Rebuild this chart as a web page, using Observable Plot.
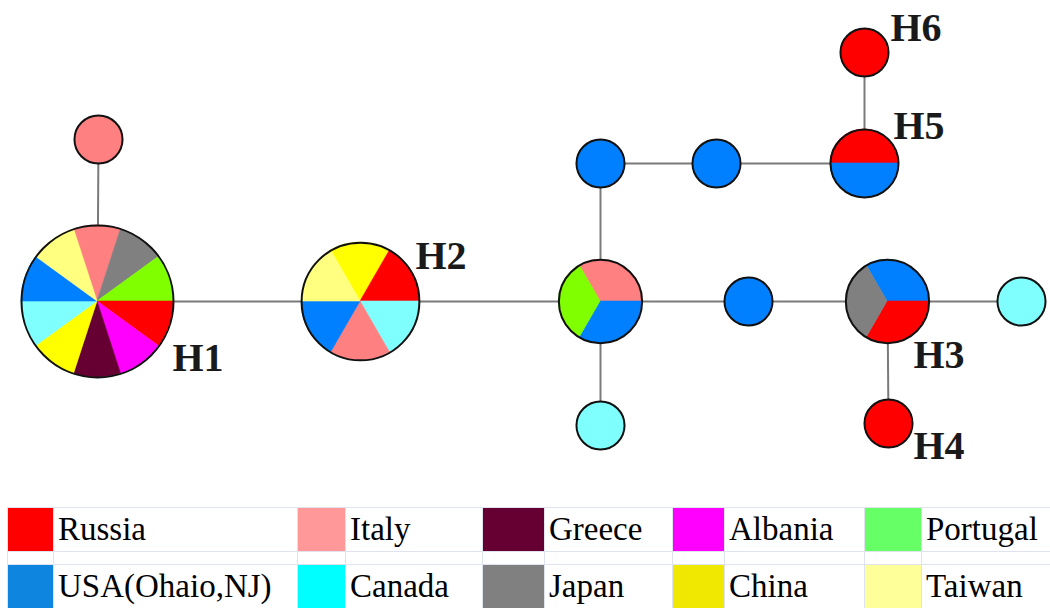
<!DOCTYPE html>
<html><head><meta charset="utf-8">
<script src="https://cdn.jsdelivr.net/npm/d3@7"></script>
<script src="https://cdn.jsdelivr.net/npm/@observablehq/plot@0.6"></script>
<style>
html,body{margin:0;padding:0;background:#fff;}
#chart{width:1050px;}
#chart svg{display:block;}
table.legend{border-collapse:collapse;table-layout:fixed;margin:2px 0 0 7px;width:1043px;font-family:"Liberation Serif","Times New Roman",serif;font-size:33px;color:#000;}
table.legend td{border:1px solid #dfe3ee;padding:0;line-height:1;}
table.legend td.t{padding-left:4px;white-space:nowrap;overflow:hidden;vertical-align:middle;}
table.legend tr.r{height:44px;}
table.legend tr.s{height:13px;}
</style></head>
<body><div id="chart"></div>
<script>
// ---- data ----
const countries = ["Russia","Italy","Greece","Albania","Portugal","USA(Ohaio,NJ)","Canada","Japan","China","Taiwan"];
const nodeIds = ["H1","It","H2","C","U1","U2","H5","H6","U3","H3","Ca1","H4","Ca2"];
const nodeX   = [97, 98, 360, 600, 600, 716, 864, 864, 748, 887, 1021, 888, 600];
const nodeY   = [301, 139, 301, 301, 163, 163, 163, 52, 301, 301, 301, 423, 425];
const nodeMembers = [
  ["Italy","Japan","Portugal","Russia","Albania","Greece","China","Canada","USA(Ohaio,NJ)","Taiwan"],
  ["Italy"],
  ["China","Russia","Canada","Italy","USA(Ohaio,NJ)","Taiwan"],
  ["Italy","USA(Ohaio,NJ)","Portugal"],
  ["USA(Ohaio,NJ)"],
  ["USA(Ohaio,NJ)"],
  ["Russia","USA(Ohaio,NJ)"],
  ["Russia"],
  ["USA(Ohaio,NJ)"],
  ["USA(Ohaio,NJ)","Russia","Japan"],
  ["Canada"],
  ["Russia"],
  ["Canada"]
];
const edges = [["It","H1"],["H1","H2"],["H2","C"],["C","U1"],["U1","U2"],["U2","H5"],["H5","H6"],["C","Ca2"],["C","U3"],["U3","H3"],["H3","Ca1"],["H3","H4"]];
const labeledNodes = ["H1","H2","H3","H4","H5","H6"];

// ---- styles ----
const pieColors    = ["#ff0000","#ff8080","#660033","#ff00ff","#80ff00","#0080ff","#80ffff","#808080","#ffff00","#ffff80"];
const legendColors = ["#ff0000","#ff9999","#660033","#ff00ff","#66ff66","#0e86e0","#00ffff","#808080","#f0e800","#ffff99"];
const startAngle = {H1:-18, H2:-30, C:-30, H3:-30, H5:-90};
const labelOffset = {H1:[75,69], H2:[55,-33], H3:[26,66], H4:[25,35], H5:[29,-25], H6:[26,-12]};

// ---- build ----
const nodes = nodeIds.map((id, i) => ({id, x: nodeX[i], y: nodeY[i], members: nodeMembers[i], count: nodeMembers[i].length}));
const byId = new Map(nodes.map(n => [n.id, n]));
const links = edges.map(([a, b]) => ({a: byId.get(a), b: byId.get(b)}));
const singles = nodes.filter(n => n.count === 1);
const multis = nodes.filter(n => n.count > 1);

const wedges = (index, scales) => {
  const g = d3.create("svg:g");
  for (const n of multis) {
    const r = scales.r(n.count);
    const cx = scales.x(n.x), cy = scales.y(n.y);
    const k = n.members.length;
    const a0 = (startAngle[n.id] ?? 0) * Math.PI / 180;
    n.members.forEach((c, i) => {
      const d = d3.arc()({innerRadius: 0, outerRadius: r, startAngle: a0 + i * 2 * Math.PI / k, endAngle: a0 + (i + 1) * 2 * Math.PI / k});
      const col = scales.color(c);
      g.append("path").attr("transform", `translate(${cx},${cy})`).attr("d", d)
        .attr("fill", col).attr("stroke", col).attr("stroke-width", 0.6);
    });
  }
  return g.node();
};

const labelMarks = labeledNodes.map(id => {
  const n = byId.get(id);
  return Plot.text([n], {x: "x", y: "y", text: d => d.id, dx: labelOffset[id][0], dy: labelOffset[id][1],
    textAnchor: "start", lineAnchor: "bottom", fontSize: 40, fontWeight: "bold",
    fontFamily: "Liberation Serif, Times New Roman, serif", fill: "#1a1a1a"});
});

const chart = Plot.plot({
  width: 1050, height: 505, margin: 0,
  x: {domain: [0, 1050], range: [0, 1050], axis: null},
  y: {domain: [0, 505], range: [0, 505], axis: null},
  r: {type: "sqrt", domain: [0, 10], range: [0, 76]},
  color: {type: "ordinal", domain: countries, range: pieColors},
  marks: [
    Plot.link(links, {x1: d => d.a.x, y1: d => d.a.y, x2: d => d.b.x, y2: d => d.b.y, stroke: "#7a7a7a", strokeWidth: 2}),
    Plot.dot(singles, {x: "x", y: "y", r: "count", fill: d => d.members[0], stroke: null}),
    wedges,
    Plot.dot(nodes, {x: "x", y: "y", r: "count", fill: "none", stroke: "#111", strokeWidth: 2}),
    ...labelMarks
  ]
});
document.getElementById("chart").appendChild(chart);

// ---- legend ----
const colW = [46,244,48,137,62,128,52,140,57,129];
const table = d3.select("#chart").append("table").attr("class", "legend");
table.append("colgroup").selectAll("col").data(colW).join("col").style("width", d => d + "px");
const tb = table.append("tbody");
function row(start) {
  const tr = tb.append("tr").attr("class", "r");
  for (let i = start; i < start + 5; i++) {
    tr.append("td").style("background", legendColors[i]);
    tr.append("td").attr("class", "t").text(countries[i]);
  }
}
row(0);
const sp = tb.append("tr").attr("class", "s");
for (let i = 0; i < 10; i++) sp.append("td");
row(5);
</script>
</body></html>
